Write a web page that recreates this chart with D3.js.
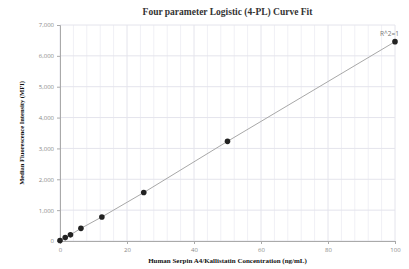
<!DOCTYPE html>
<html>
<head>
<meta charset="utf-8">
<script src="https://cdn.jsdelivr.net/npm/d3@7"></script>
<style>
  body { margin: 0; background: #fff; }
  svg { display: block; }
</style>
</head>
<body>
<div class="chart"></div>
<script>
// concentrations (ng/mL) and measured MFI
var conc = [0, 1.5625, 3.125, 6.25, 12.5, 25, 50, 100],
    mfi = [15, 110, 200, 410, 780, 1570, 3230, 6460];

var xTicks = [0, 20, 40, 60, 80, 100],
    yTicks = [0, 1000, 2000, 3000, 4000, 5000, 6000, 7000],
    xMinor = d3.range(0, 101, 4);

var margin = {top: 25, right: 14, bottom: 28, left: 60},
    W = 409, H = 269,
    width = W - margin.left - margin.right,
    height = H - margin.top - margin.bottom;

var svg = d3.select(".chart").append("svg")
  .attr("width", W)
  .attr("height", H);

var g = svg.append("g")
  .attr("transform", `translate(${margin.left}, ${margin.top})`);

const x = d3.scaleLinear().domain([0, 100]).range([0, width]);
const y = d3.scaleLinear().domain([0, 7000]).range([height, 0]);

// grid
g.append("g").selectAll("line")
  .data(xMinor)
  .enter().append("line")
  .attr("x1", d => x(d)).attr("x2", d => x(d))
  .attr("y1", 0).attr("y2", height)
  .attr("stroke", d => d % 20 == 0 ? "#e4e4ec" : "#f0f0f5")
  .attr("stroke-width", 1);

g.append("g").selectAll("line")
  .data(yTicks)
  .enter().append("line")
  .attr("x1", 0).attr("x2", width)
  .attr("y1", d => y(d)).attr("y2", d => y(d))
  .attr("stroke", "#e4e4ec")
  .attr("stroke-width", 1);

// axes
var xAxis = g.append("g")
  .attr("transform", `translate(0, ${height})`)
  .call(d3.axisBottom(x).tickValues(xTicks).tickSize(3).tickFormat(d3.format("d")));

var yAxis = g.append("g")
  .call(d3.axisLeft(y).tickValues(yTicks).tickSize(3).tickFormat(d3.format(",")));

[xAxis, yAxis].forEach(a => {
  a.select(".domain").attr("stroke", "#aaa");
  a.selectAll(".tick line").attr("stroke", "#aaa");
  a.selectAll("text")
    .attr("fill", "#888")
    .style("font-family", "'Open Sans', sans-serif")
    .style("font-size", "6px");
});
xAxis.selectAll("text").attr("dy", "0.9em");

// fitted curve
var line = d3.line()
  .x((d, i) => x(conc[i]))
  .y(d => y(d));

g.append("path")
  .datum(mfi)
  .attr("fill", "none")
  .attr("stroke", "#a8a8a8")
  .attr("stroke-width", 1)
  .attr("d", line);

// points
g.append("g").selectAll("circle")
  .data(mfi)
  .enter().append("circle")
  .attr("cx", (d, i) => x(conc[i]))
  .attr("cy", d => y(d))
  .attr("r", 2.8)
  .attr("fill", "#222");

g.append("text")
  .attr("x", x(100) + 4)
  .attr("y", y(6460) - 6)
  .attr("text-anchor", "end")
  .attr("fill", "#777")
  .style("font-family", "'Open Sans', sans-serif")
  .style("font-size", "6.5px")
  .text("R^2=1");

// titles
svg.append("text")
  .attr("x", margin.left + width / 2)
  .attr("y", 15)
  .attr("text-anchor", "middle")
  .attr("fill", "#333")
  .style("font-family", "'Liberation Serif', serif")
  .style("font-weight", "bold")
  .style("font-size", "9.5px")
  .text("Four parameter Logistic (4-PL) Curve Fit");

svg.append("text")
  .attr("x", margin.left + width / 2)
  .attr("y", 263)
  .attr("text-anchor", "middle")
  .attr("fill", "#111")
  .style("font-family", "'Liberation Serif', serif")
  .style("font-weight", "bold")
  .style("font-size", "7px")
  .text("Human Serpin A4/Kallistatin Concentration (ng/mL)");

svg.append("text")
  .attr("transform", `translate(24, ${margin.top + height / 2}) rotate(-90)`)
  .attr("text-anchor", "middle")
  .attr("fill", "#111")
  .style("font-family", "'Liberation Serif', serif")
  .style("font-weight", "bold")
  .style("font-size", "6.5px")
  .text("Median Fluorescence Intensity (MFI)");
</script>
</body>
</html>
